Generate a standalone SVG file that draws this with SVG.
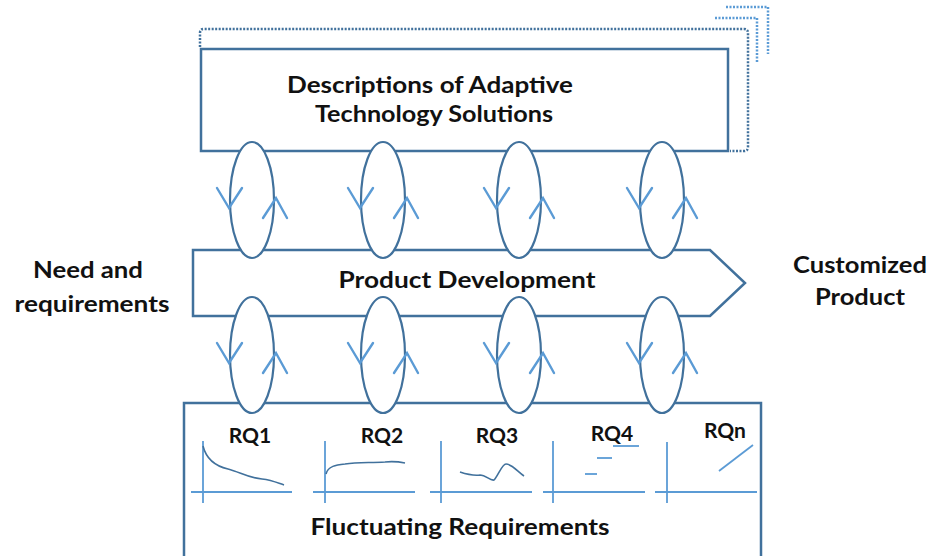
<svg xmlns="http://www.w3.org/2000/svg" xmlns:xlink="http://www.w3.org/1999/xlink" width="932" height="556" viewBox="0 0 932 556">
<style>
  .box { fill: #ffffff; stroke: #41719C; stroke-width: 2.5; }
  .lbl { font-family: Lato, "Liberation Sans", Arial, sans-serif; font-weight: 700; font-size: 23px; fill: #111111; text-anchor: middle; }
  .rq { font-family: Lato, "Liberation Sans", Arial, sans-serif; font-weight: 700; font-size: 21px; fill: #111111; text-anchor: middle; }
  .axis { stroke: #5B9BD5; stroke-width: 1.8; fill: none; }
  .curve { stroke: #41719C; stroke-width: 1.6; fill: none; }
  .dash { stroke: #5B9BD5; stroke-width: 1.8; fill: none; }
  .ell { fill: #ffffff; stroke: #41719C; stroke-width: 2.2; }
  .chev { fill: none; stroke: #5B9BD5; stroke-width: 2.4; stroke-linecap: round; stroke-linejoin: miter; }
  .dot1 { fill: none; stroke: #41719C; stroke-width: 2.5; stroke-dasharray: 2 1.5; }
  .dot2 { fill: none; stroke: #5B9BD5; stroke-width: 2.5; stroke-dasharray: 2 1.5; }
</style>
<defs>
  <g id="cycle">
    <ellipse class="ell" cx="0" cy="0" rx="22" ry="58"/>
    <polyline class="chev" points="-35,-12 -23,8 -10,-12"/>
    <polyline class="chev" points="11,18 24,-2 35,18"/>
  </g>
</defs>

<rect width="932" height="556" fill="#ffffff"/>

<g id="feedback-dotted">
  <path class="dot1" d="M200,47 V33 Q200,29 204,29 H744 Q748,29 748,33 V147 Q748,151 744,151 H730"/>
  <path class="dot2" d="M715,18 H757 V63"/>
  <path class="dot2" d="M726,7 H768 V54"/>
</g>

<g id="node-descriptions">
  <rect class="box" x="201" y="49" width="527" height="102"/>
  <text class="lbl" x="430" y="93" textLength="286" lengthAdjust="spacingAndGlyphs">Descriptions of Adaptive</text>
  <text class="lbl" x="434" y="122" textLength="238" lengthAdjust="spacingAndGlyphs">Technology Solutions</text>
</g>

<g id="node-product-development">
  <polygon class="box" points="193,250 710,250 745,283 710,316 193,316"/>
  <text class="lbl" x="467" y="288" textLength="257" lengthAdjust="spacingAndGlyphs">Product Development</text>
</g>

<g id="node-fluctuating">
  <rect class="box" x="184" y="403" width="577" height="170"/>
  <text class="rq" x="250" y="443">RQ1</text>
  <text class="rq" x="382" y="443">RQ2</text>
  <text class="rq" x="497" y="443">RQ3</text>
  <text class="rq" x="612" y="441">RQ4</text>
  <text class="rq" x="725" y="438">RQn</text>
  <g id="chart-rq1">
    <line class="axis" x1="203" y1="441" x2="203" y2="503"/>
    <line class="axis" x1="191" y1="492" x2="292" y2="492"/>
    <path class="curve" d="M203,446 C206,458 215,466 228,469 C240,472 248,478 262,479 C272,480 278,483 284,485"/>
  </g>
  <g id="chart-rq2">
    <line class="axis" x1="325" y1="441" x2="325" y2="503"/>
    <line class="axis" x1="313" y1="492" x2="415" y2="492"/>
    <path class="curve" d="M326,474 C328,466 336,465 345,464 C358,462 370,463 385,462 C395,461 400,462 405,463"/>
  </g>
  <g id="chart-rq3">
    <line class="axis" x1="441" y1="441" x2="441" y2="503"/>
    <line class="axis" x1="430" y1="492" x2="532" y2="492"/>
    <path class="curve" d="M460,472 C466,474 472,476 480,475 C486,475 490,481 494,480 C498,476 502,464 506,464 C512,464 518,472 524,476"/>
  </g>
  <g id="chart-rq4">
    <line class="axis" x1="553" y1="441" x2="553" y2="503"/>
    <line class="axis" x1="543" y1="492" x2="645" y2="492"/>
    <line class="dash" x1="585" y1="474" x2="597" y2="474"/>
    <line class="dash" x1="597" y1="458" x2="612" y2="458"/>
    <line class="dash" x1="613" y1="446" x2="639" y2="446"/>
  </g>
  <g id="chart-rqn">
    <line class="axis" x1="667" y1="442" x2="667" y2="503"/>
    <line class="axis" x1="655" y1="492" x2="757" y2="492"/>
    <line class="dash" x1="719" y1="471" x2="753" y2="445"/>
  </g>
  <text class="lbl" x="460" y="535" textLength="299" lengthAdjust="spacingAndGlyphs">Fluctuating Requirements</text>
</g>

<g id="node-need">
  <text class="lbl" x="88" y="278" textLength="110" lengthAdjust="spacingAndGlyphs">Need and</text>
  <text class="lbl" x="92" y="312" textLength="155" lengthAdjust="spacingAndGlyphs">requirements</text>
</g>

<g id="node-customized">
  <text class="lbl" x="860" y="273" textLength="134" lengthAdjust="spacingAndGlyphs">Customized</text>
  <text class="lbl" x="860" y="305" textLength="90" lengthAdjust="spacingAndGlyphs">Product</text>
</g>

<g id="connectors">
  <use xlink:href="#cycle" transform="translate(252,200)"/>
  <use xlink:href="#cycle" transform="translate(383,200)"/>
  <use xlink:href="#cycle" transform="translate(519,200)"/>
  <use xlink:href="#cycle" transform="translate(662,200)"/>
  <use xlink:href="#cycle" transform="translate(252,355)"/>
  <use xlink:href="#cycle" transform="translate(383,355)"/>
  <use xlink:href="#cycle" transform="translate(519,355)"/>
  <use xlink:href="#cycle" transform="translate(662,355)"/>
</g>
</svg>
